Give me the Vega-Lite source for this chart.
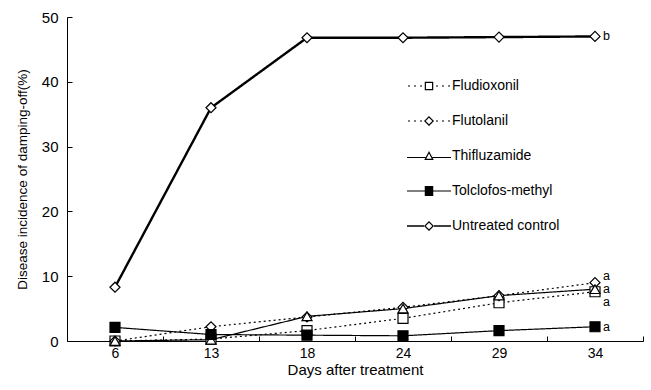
{
  "$schema": "https://vega.github.io/schema/vega-lite/v6.json",
  "width": 576,
  "height": 324,
  "autosize": "none",
  "padding": {"left": 67, "top": 17, "right": 8, "bottom": 49},
  "background": "white",
  "config": {
    "font": "Liberation Sans",
    "view": {"stroke": null},
    "axis": {"grid": false, "domainColor": "black", "tickColor": "black", "labelColor": "black", "titleColor": "black", "labelFont": "Liberation Sans", "titleFont": "Liberation Sans", "titleFontWeight": "normal"}
  },
  "data": {
    "values": [
      {"day": "6", "series": "Fludioxonil", "value": 0},
      {"day": "13", "series": "Fludioxonil", "value": 0.3},
      {"day": "18", "series": "Fludioxonil", "value": 1.6},
      {"day": "24", "series": "Fludioxonil", "value": 3.5},
      {"day": "29", "series": "Fludioxonil", "value": 5.9},
      {"day": "34", "series": "Fludioxonil", "value": 7.6},
      {"day": "6", "series": "Flutolanil", "value": 0},
      {"day": "13", "series": "Flutolanil", "value": 2.2},
      {"day": "18", "series": "Flutolanil", "value": 3.7},
      {"day": "24", "series": "Flutolanil", "value": 5.2},
      {"day": "29", "series": "Flutolanil", "value": 7.0},
      {"day": "34", "series": "Flutolanil", "value": 9.0},
      {"day": "6", "series": "Thifluzamide", "value": 0},
      {"day": "13", "series": "Thifluzamide", "value": 0.2},
      {"day": "18", "series": "Thifluzamide", "value": 3.8},
      {"day": "24", "series": "Thifluzamide", "value": 5.0},
      {"day": "29", "series": "Thifluzamide", "value": 7.0},
      {"day": "34", "series": "Thifluzamide", "value": 8.0},
      {"day": "6", "series": "Tolclofos-methyl", "value": 2.1},
      {"day": "13", "series": "Tolclofos-methyl", "value": 1.0},
      {"day": "18", "series": "Tolclofos-methyl", "value": 0.9},
      {"day": "24", "series": "Tolclofos-methyl", "value": 0.8},
      {"day": "29", "series": "Tolclofos-methyl", "value": 1.6},
      {"day": "34", "series": "Tolclofos-methyl", "value": 2.2},
      {"day": "6", "series": "Untreated control", "value": 8.3},
      {"day": "13", "series": "Untreated control", "value": 36.0},
      {"day": "18", "series": "Untreated control", "value": 46.8},
      {"day": "24", "series": "Untreated control", "value": 46.8},
      {"day": "29", "series": "Untreated control", "value": 46.9},
      {"day": "34", "series": "Untreated control", "value": 47.0}
    ]
  },
  "encoding": {
    "x": {
      "field": "day", "type": "ordinal", "sort": ["6", "13", "18", "24", "29", "34"],
      "bandPosition": 0.5,
      "scale": {"type": "band", "paddingInner": 0, "paddingOuter": 0},
      "axis": {"title": "Days after treatment", "labelAngle": 0, "tickBand": "extent", "tickSize": -5, "labelPadding": 10, "labelFontSize": 14, "titleFontSize": 15, "titlePadding": 2}
    },
    "y": {
      "field": "value", "type": "quantitative",
      "scale": {"domain": [0, 50]},
      "axis": {"title": "Disease incidence of damping-off(%)", "values": [0, 10, 20, 30, 40, 50], "tickSize": -5, "labelPadding": 14, "labelFontSize": 15, "titleFontSize": 13.5, "titlePadding": 12}
    }
  },
  "resolve": {"scale": {"shape": "independent"}, "legend": {"shape": "independent"}},
  "layer": [
    {
      "mark": {"type": "line", "color": "black"},
      "encoding": {
        "detail": {"field": "series"},
        "strokeDash": {"condition": {"test": "datum.series === 'Fludioxonil' || datum.series === 'Flutolanil'", "value": [2, 3]}, "value": [1, 0]},
        "strokeWidth": {"condition": {"test": "datum.series === 'Untreated control'", "value": 2.4}, "value": 1.2}
      }
    },
    {
      "mark": {"type": "point", "filled": false, "stroke": "black", "strokeWidth": 1.2, "opacity": 1},
      "encoding": {
        "shape": {"field": "series", "type": "nominal", "legend": null,
          "scale": {"domain": ["Fludioxonil", "Flutolanil", "Thifluzamide", "Tolclofos-methyl", "Untreated control"], "range": ["square", "diamond", "triangle-up", "square", "diamond"]}},
        "fill": {"condition": {"test": "datum.series === 'Tolclofos-methyl'", "value": "black"}, "value": "white"},
        "size": {"value": 100}
      }
    },
    {
      "transform": [{"filter": "false"}],
      "mark": {"type": "point", "filled": true, "color": "black", "strokeWidth": 0, "opacity": 1},
      "encoding": {
        "shape": {"field": "series", "type": "nominal",
          "scale": {"domain": ["Fludioxonil", "Flutolanil", "Thifluzamide", "Tolclofos-methyl", "Untreated control"],
            "range": [
              "M-4.2,-0.12H-3.8V0.12H-4.2Z M-3.0,-0.12H-2.6V0.12H-3.0Z M-1.8,-0.12H-1.4V0.12H-1.8Z M1.4,-0.12H1.8V0.12H1.4Z M2.6,-0.12H3.0V0.12H2.6Z M3.8,-0.12H4.2V0.12H3.8Z M-0.85,-0.85H0.85V0.85H-0.85Z M-0.61,-0.61V0.61H0.61V-0.61Z",
              "M-4.2,-0.12H-3.8V0.12H-4.2Z M-3.0,-0.12H-2.6V0.12H-3.0Z M-1.8,-0.12H-1.4V0.12H-1.8Z M1.4,-0.12H1.8V0.12H1.4Z M2.6,-0.12H3.0V0.12H2.6Z M3.8,-0.12H4.2V0.12H3.8Z M-1,0L0,-1L1,0L0,1Z M-0.66,0L0,0.66L0.66,0L0,-0.66Z",
              "M-4.4,0.18H-0.69V0.42H-4.4Z M0.69,0.18H4.4V0.42H0.69Z M0,-1L0.95,0.8H-0.95Z M0,-0.485L-0.55,0.56H0.55Z",
              "M-4.4,-0.12H-0.85V0.12H-4.4Z M0.85,-0.12H4.4V0.12H0.85Z M-0.85,-1H0.85V1H-0.85Z",
              "M-4.4,-0.15H-1V0.15H-4.4Z M1,-0.15H4.4V0.15H1Z M-1,0L0,-1L1,0L0,1Z M-0.66,0L0,0.66L0.66,0L0,-0.66Z"
            ]},
          "legend": {
            "title": null, "orient": "none", "legendX": 355, "legendY": 62,
            "symbolSize": 100, "labelFontSize": 14, "labelOffset": 16, "rowPadding": 21, "padding": 0,
            "symbolFillColor": "black", "symbolStrokeWidth": 0, "symbolOpacity": 1, "labelColor": "black"
          }},
        "size": {"value": 100}
      }
    },
    {
      "data": {"values": [
        {"day": "34", "label": "b", "value": 47.0},
        {"day": "34", "label": "a", "value": 10.0},
        {"day": "34", "label": "a", "value": 8.0},
        {"day": "34", "label": "a", "value": 6.0},
        {"day": "34", "label": "a", "value": 2.1}
      ]},
      "mark": {"type": "text", "align": "left", "baseline": "middle", "dx": 8, "fontSize": 12.5, "font": "Liberation Sans", "color": "black"},
      "encoding": {"text": {"field": "label"}}
    }
  ]
}
